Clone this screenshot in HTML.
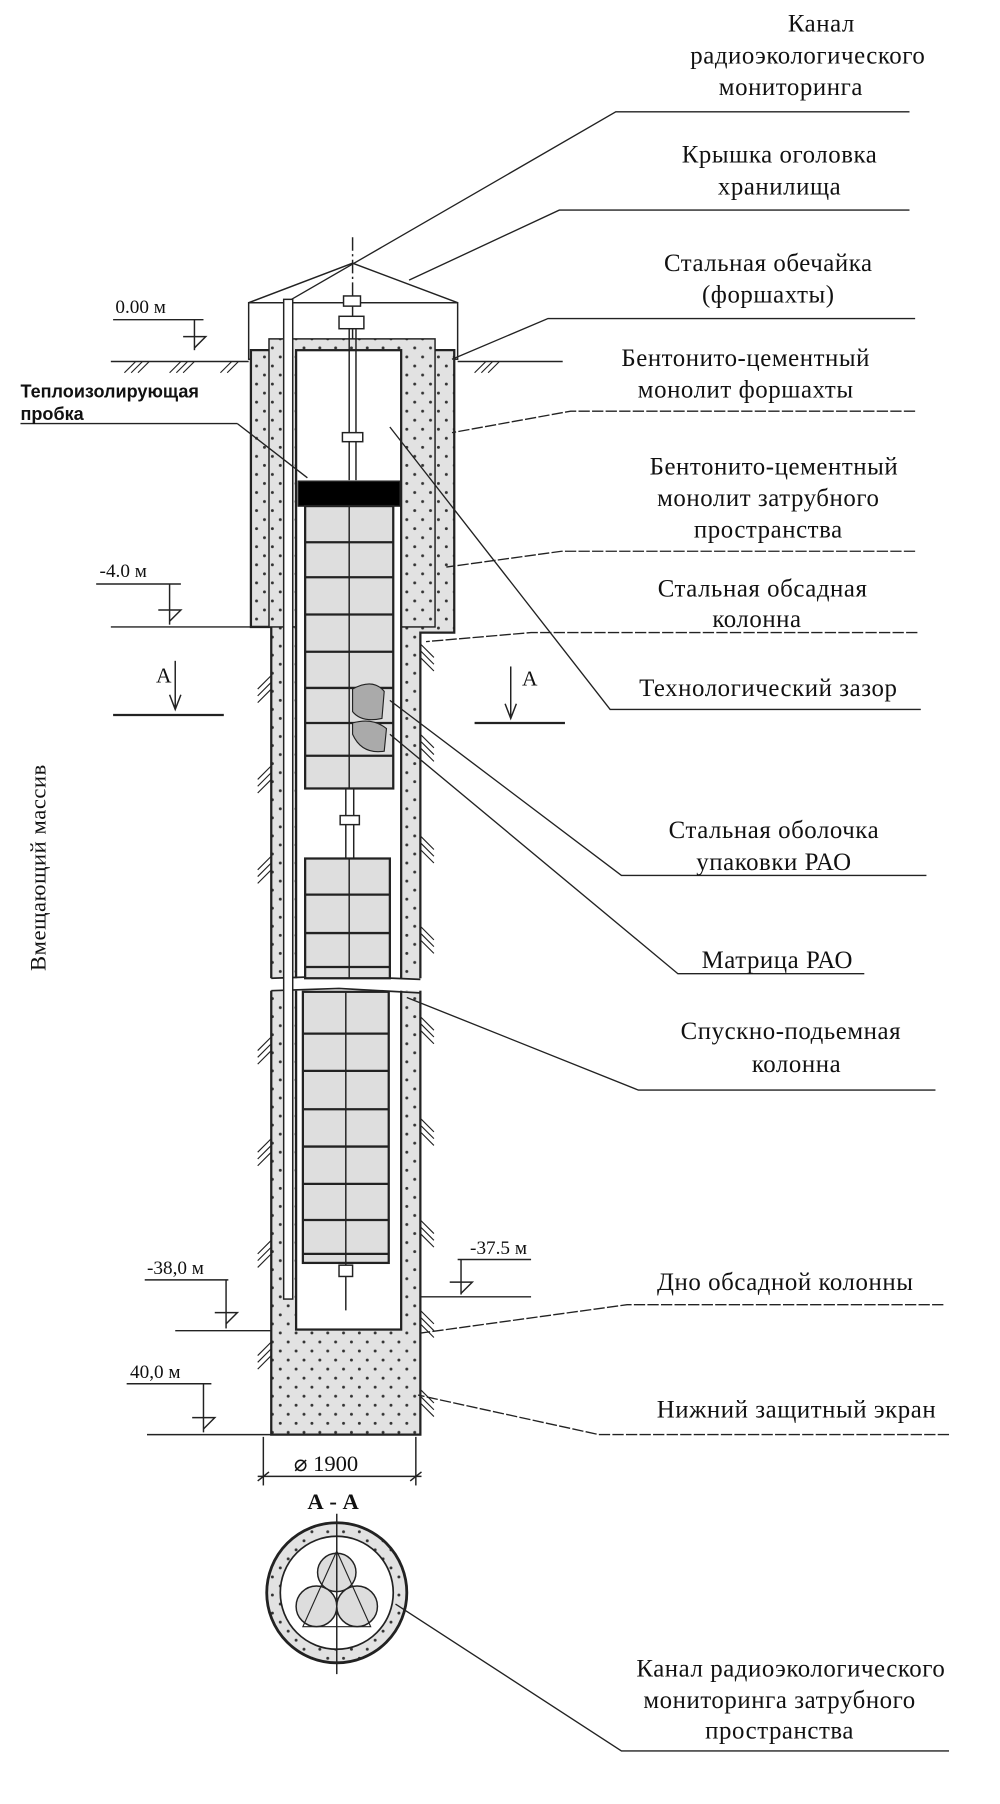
<!DOCTYPE html>
<html><head><meta charset="utf-8"><style>
html,body{margin:0;padding:0;background:#fff;}
svg{display:block;}
.t{font-family:"Liberation Serif","DejaVu Serif",serif;font-size:22px;fill:#111;text-anchor:middle;letter-spacing:0.5px;}
.e{font-family:"Liberation Serif",serif;font-size:17px;fill:#111;}
.s{font-family:"Liberation Sans",sans-serif;font-size:16px;font-weight:bold;fill:#111;}
</style></head><body>
<svg width="1000" height="1804" viewBox="0 0 885 1597" xmlns="http://www.w3.org/2000/svg">
<defs>
<pattern id="dots" width="14" height="16" patternUnits="userSpaceOnUse">
<rect width="14" height="16" fill="#e2e2e2"/>
<circle cx="3" cy="4" r="1.3" fill="#333"/><circle cx="10" cy="12" r="1.3" fill="#333"/>
</pattern>
</defs>
<g stroke="#222" fill="none" stroke-width="1.3">
<path d="M220 268 L312 233 L405 268" />
<rect x="220" y="268" width="185" height="50" fill="#fff"/>
<line x1="312" y1="210" x2="312" y2="300" stroke-dasharray="12,3,2,3"/>
<path d="M222 310 H402 V560 H372 V1270 H240 V555 H222 Z" fill="url(#dots)" stroke-width="2"/>
<rect x="238" y="300" width="147" height="255" fill="url(#dots)"/>
<rect x="262" y="310" width="93" height="867" fill="#fff" stroke-width="2"/>
<rect x="230" y="866" width="150" height="11" fill="#fff" stroke="none"/>
<path d="M240 866 L300 864 L372 867 M240 877 L300 875 L372 879" stroke-width="1.5"/>
<rect x="251" y="265" width="8" height="885" fill="#fff"/>
<rect x="304" y="262" width="15" height="9" fill="#fff"/>
<rect x="300" y="280" width="22" height="11" fill="#fff"/>
<line x1="309" y1="291" x2="309" y2="425"/><line x1="315" y1="291" x2="315" y2="425"/>
<rect x="303" y="383" width="18" height="8" fill="#fff"/>
<rect x="264" y="426" width="90" height="22" fill="#000"/>
<rect x="270" y="448" width="78" height="250" fill="#dedede" stroke-width="2"/>
<g stroke-width="2">
<line x1="270" x2="348" y1="480" y2="480"/><line x1="270" x2="348" y1="511" y2="511"/>
<line x1="270" x2="348" y1="544" y2="544"/><line x1="270" x2="348" y1="577" y2="577"/>
<line x1="270" x2="348" y1="609" y2="609"/><line x1="270" x2="348" y1="640" y2="640"/>
<line x1="270" x2="348" y1="669" y2="669"/>
</g>
<line x1="309" y1="448" x2="309" y2="698"/>
<path d="M312 610 Q330 600 340 612 L338 636 Q320 640 312 630 Z M312 640 Q330 635 342 645 L340 665 Q320 668 312 650 Z" fill="#aaa" stroke-width="1"/>
<line x1="306" y1="698" x2="306" y2="760"/><line x1="313" y1="698" x2="313" y2="760"/>
<rect x="301" y="722" width="17" height="8" fill="#fff"/>
<rect x="270" y="760" width="75" height="106" fill="#dedede" stroke-width="2"/>
<g stroke-width="2"><line x1="270" x2="345" y1="792" y2="792"/><line x1="270" x2="345" y1="826" y2="826"/><line x1="270" x2="345" y1="856" y2="856"/></g>
<line x1="309" y1="760" x2="309" y2="866"/>
<rect x="268" y="878" width="76" height="240" fill="#dedede" stroke-width="2"/>
<g stroke-width="2">
<line x1="268" x2="344" y1="915" y2="915"/><line x1="268" x2="344" y1="948" y2="948"/>
<line x1="268" x2="344" y1="982" y2="982"/><line x1="268" x2="344" y1="1015" y2="1015"/>
<line x1="268" x2="344" y1="1048" y2="1048"/><line x1="268" x2="344" y1="1080" y2="1080"/>
<line x1="268" x2="344" y1="1110" y2="1110"/>
</g>
<line x1="306" y1="878" x2="306" y2="1160"/>
<rect x="300" y="1120" width="12" height="10" fill="#fff"/>
<line x1="98" y1="320" x2="220" y2="320"/><line x1="405" y1="320" x2="498" y2="320"/>
<line x1="98" y1="555" x2="222" y2="555"/>
<line x1="155" y1="1178" x2="240" y2="1178"/>
<line x1="130" y1="1270" x2="240" y2="1270"/>
<line x1="372" y1="1148" x2="470" y2="1148"/>
<g stroke-width="1">
<path d="M110 330 l10 -10 M116 330 l10 -10 M122 330 l10 -10 M150 330 l10 -10 M156 330 l10 -10 M162 330 l10 -10 M195 330 l10 -10 M201 330 l10 -10 M420 330 l10 -10 M426 330 l10 -10 M432 330 l10 -10"/>
<path d="M228 610 l12 -12 M228 616 l12 -12 M228 622 l12 -12 M228 690 l12 -12 M228 696 l12 -12 M228 702 l12 -12 M228 770 l12 -12 M228 776 l12 -12 M228 782 l12 -12 M228 930 l12 -12 M228 936 l12 -12 M228 942 l12 -12 M228 1020 l12 -12 M228 1026 l12 -12 M228 1032 l12 -12 M228 1110 l12 -12 M228 1116 l12 -12 M228 1122 l12 -12 M228 1200 l12 -12 M228 1206 l12 -12 M228 1212 l12 -12"/>
<path d="M372 570 l12 12 M372 576 l12 12 M372 582 l12 12 M372 650 l12 12 M372 656 l12 12 M372 662 l12 12 M372 740 l12 12 M372 746 l12 12 M372 752 l12 12 M372 820 l12 12 M372 826 l12 12 M372 832 l12 12 M372 900 l12 12 M372 906 l12 12 M372 912 l12 12 M372 990 l12 12 M372 996 l12 12 M372 1002 l12 12 M372 1080 l12 12 M372 1086 l12 12 M372 1092 l12 12 M372 1160 l12 12 M372 1166 l12 12 M372 1172 l12 12 M372 1230 l12 12 M372 1236 l12 12 M372 1242 l12 12"/>
</g>
<line x1="100" y1="283" x2="180" y2="283"/><line x1="172" y1="283" x2="172" y2="310"/><path d="M162 298 H182 L172 308"/>
<line x1="85" y1="517" x2="160" y2="517"/><line x1="150" y1="517" x2="150" y2="553"/><path d="M140 540 H160 L150 550"/>
<line x1="128" y1="1133" x2="202" y2="1133"/><line x1="200" y1="1133" x2="200" y2="1176"/><path d="M190 1162 H210 L200 1172"/>
<line x1="112" y1="1225" x2="187" y2="1225"/><line x1="180" y1="1225" x2="180" y2="1268"/><path d="M170 1255 H190 L180 1265"/>
<line x1="405" y1="1115" x2="470" y2="1115"/><line x1="408" y1="1115" x2="408" y2="1146"/><path d="M398 1135 H418 L408 1145"/>
<line x1="155" y1="585" x2="155" y2="628"/><path d="M150 615 L155 628 L160 615"/><line x1="100" y1="633" x2="198" y2="633" stroke-width="2"/>
<line x1="452" y1="590" x2="452" y2="636"/><path d="M447 623 L452 636 L457 623"/><line x1="420" y1="640" x2="500" y2="640" stroke-width="2"/>
<line x1="233" y1="1272" x2="233" y2="1315"/><line x1="368" y1="1272" x2="368" y2="1315"/>
<line x1="228" y1="1307" x2="373" y2="1307"/>
<path d="M228 1311 l10 -8 M363 1311 l10 -8"/>
<circle cx="298" cy="1410" r="62" fill="url(#dots)" stroke-width="2.5"/>
<circle cx="298" cy="1410" r="50" fill="#fff" stroke-width="1.5"/>
<circle cx="298" cy="1392" r="17" fill="#ddd"/>
<circle cx="280" cy="1422" r="18" fill="#ddd"/>
<circle cx="316" cy="1422" r="18" fill="#ddd"/>
<path d="M298 1373 L268 1440 H328 Z" stroke-width="1"/>
<line x1="298" y1="1340" x2="298" y2="1482"/>
<g stroke-width="1.2">
<path d="M805 99 H545 L258 265"/>
<path d="M805 186 H495 L362 248"/>
<path d="M810 282 H485 L400 318"/>
<path d="M810 364 H505 L400 383" stroke-dasharray="10,2"/>
<path d="M810 488 H497 L395 502" stroke-dasharray="10,2"/>
<path d="M812 560 H470 L377 568" stroke-dasharray="10,2"/>
<path d="M815 628 H540 L345 378"/>
<path d="M820 775 H550 L345 620"/>
<path d="M765 862 H600 L345 650"/>
<path d="M828 965 H565 L360 883"/>
<path d="M835 1155 H555 L373 1180" stroke-dasharray="10,2"/>
<path d="M840 1270 H530 L370 1235" stroke-dasharray="10,2"/>
<path d="M840 1550 H550 L350 1420"/>
<path d="M210 375 H18 M210 375 L272 423"/>
</g>
</g>
<text class="t" x="727" y="28">Канал</text>
<text class="t" x="715" y="56">радиоэкологического</text>
<text class="t" x="700" y="84">мониторинга</text>
<text class="t" x="690" y="144">Крышка оголовка</text>
<text class="t" x="690" y="172">хранилища</text>
<text class="t" x="680" y="240">Стальная обечайка</text>
<text class="t" x="680" y="268">(форшахты)</text>
<text class="t" x="660" y="324">Бентонито-цементный</text>
<text class="t" x="660" y="352">монолит форшахты</text>
<text class="t" x="685" y="420">Бентонито-цементный</text>
<text class="t" x="680" y="448">монолит затрубного</text>
<text class="t" x="680" y="476">пространства</text>
<text class="t" x="675" y="528">Стальная обсадная</text>
<text class="t" x="670" y="555">колонна</text>
<text class="t" x="680" y="616">Технологический зазор</text>
<text class="t" x="685" y="742">Стальная оболочка</text>
<text class="t" x="685" y="770">упаковки РАО</text>
<text class="t" x="688" y="857">Матрица РАО</text>
<text class="t" x="700" y="920">Спускно-подьемная</text>
<text class="t" x="705" y="949">колонна</text>
<text class="t" x="695" y="1142">Дно обсадной колонны</text>
<text class="t" x="705" y="1255">Нижний защитный экран</text>
<text class="t" x="700" y="1484">Канал радиоэкологического</text>
<text class="t" x="690" y="1512">мониторинга затрубного</text>
<text class="t" x="690" y="1539">пространства</text>
<text class="s" x="18" y="352">Теплоизолирующая</text>
<text class="s" x="18" y="372">пробка</text>
<text class="e" x="102" y="277">0.00 м</text>
<text class="e" x="88" y="511">-4.0 м</text>
<text class="e" x="130" y="1128">-38,0 м</text>
<text class="e" x="115" y="1220">40,0 м</text>
<text class="e" x="416" y="1110">-37.5 м</text>
<text class="e" x="138" y="604" style="font-size:19px">А</text>
<text class="e" x="462" y="607" style="font-size:19px">А</text>
<text class="e" x="260" y="1302" style="font-size:20px">⌀ 1900</text>
<text class="e" x="272" y="1336" style="font-size:20px;font-weight:bold">А - А</text>
<text class="t" transform="translate(40,768) rotate(-90)" style="font-size:20px">Вмещающий массив</text>
</svg>
</body></html>
